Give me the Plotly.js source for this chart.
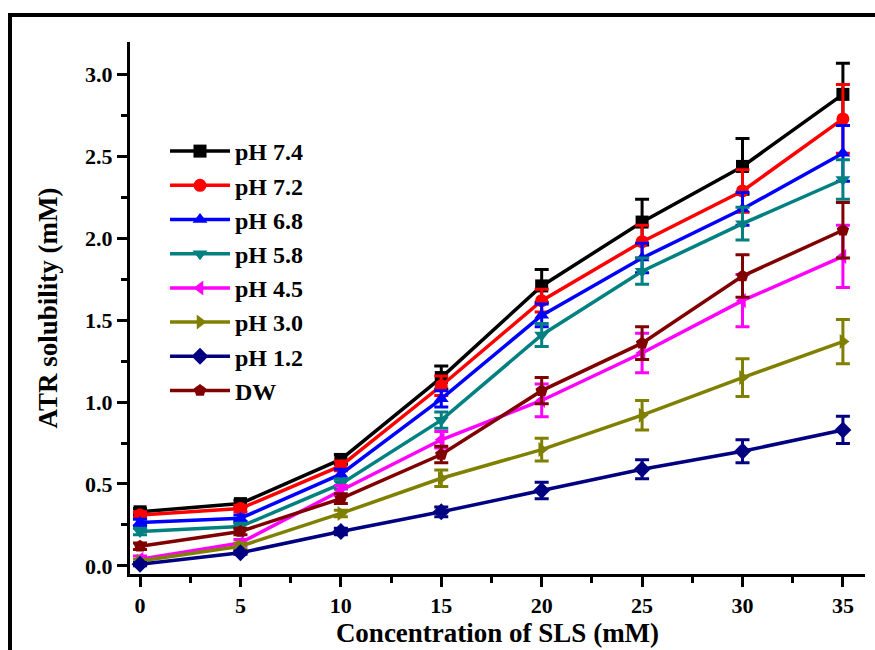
<!DOCTYPE html>
<html>
<head>
<meta charset="utf-8">
<script src="https://cdn.plot.ly/plotly-3.0.1.min.js"></script>
<style>html,body{margin:0;padding:0;background:#fff;}#chart{width:875px;height:650px;}</style>
</head>
<body>
<div id="chart"></div>
<script>
const conc = [0, 5, 10, 15, 20, 25, 30, 35];
const seriesNames = ["pH 7.4", "pH 7.2", "pH 6.8", "pH 5.8", "pH 4.5", "pH 3.0", "pH 1.2", "DW"];
const pH74 = [0.33, 0.38, 0.65, 1.15, 1.71, 2.10, 2.44, 2.88];
const pH72 = [0.31, 0.35, 0.61, 1.10, 1.62, 1.98, 2.29, 2.73];
const pH68 = [0.265, 0.29, 0.56, 1.02, 1.53, 1.88, 2.18, 2.52];
const pH58 = [0.21, 0.24, 0.50, 0.89, 1.41, 1.80, 2.09, 2.36];
const pH45 = [0.04, 0.14, 0.46, 0.77, 1.01, 1.30, 1.62, 1.89];
const pH30 = [0.03, 0.12, 0.32, 0.535, 0.71, 0.92, 1.15, 1.37];
const pH12 = [0.01, 0.08, 0.21, 0.33, 0.46, 0.59, 0.70, 0.83];
const DW   = [0.12, 0.21, 0.41, 0.68, 1.07, 1.36, 1.77, 2.05];
const err74 = [0.02, 0.02, 0.03, 0.07, 0.10, 0.14, 0.17, 0.19];
const err72 = [0.02, 0.02, 0.03, 0.06, 0.07, 0.10, 0.13, 0.21];
const err68 = [0.02, 0.02, 0.03, 0.05, 0.07, 0.09, 0.10, 0.17];
const err58 = [0.02, 0.02, 0.03, 0.05, 0.07, 0.08, 0.10, 0.12];
const err45 = [0.02, 0.02, 0.03, 0.05, 0.10, 0.12, 0.16, 0.19];
const err30 = [0.01, 0.02, 0.02, 0.05, 0.07, 0.09, 0.115, 0.135];
const err12 = [0.01, 0.01, 0.02, 0.03, 0.05, 0.058, 0.07, 0.083];
const errDW = [0.02, 0.02, 0.03, 0.05, 0.08, 0.10, 0.13, 0.17];

const values = [pH74, pH72, pH68, pH58, pH45, pH30, pH12, DW];
const errors = [err74, err72, err68, err58, err45, err30, err12, errDW];
const colors = ["#000000", "#ff0000", "#0000ff", "#008080", "#ff00ff", "#808000", "#000080", "#800000"];
const symbols = ["square", "circle", "triangle-up", "triangle-down", "triangle-left", "triangle-right", "diamond", "pentagon"];

const FONT = "Liberation Serif, Times New Roman, serif";

const traces = values.map((v, i) => ({
  type: "scatter",
  mode: "lines+markers",
  name: seriesNames[i],
  x: conc,
  y: v,
  line: {color: colors[i], width: 3.5},
  marker: {symbol: symbols[i], size: 13, color: colors[i]},
  error_y: {type: "data", array: errors[i], visible: true, color: colors[i], thickness: 3, width: 7}
}));

const W = 735, H = 532, L = 130, B = 574;
const px = p => (p - L) / W;
const py = p => (B - p) / H;

const layout = {
  width: 875, height: 650,
  margin: {l: 130, r: 10, t: 42, b: 76},
  paper_bgcolor: "#fff", plot_bgcolor: "#fff",
  font: {family: FONT, color: "#000", weight: "bold"},
  showlegend: true,
  legend: {
    x: px(165), y: py(129), xanchor: "left", yanchor: "top",
    font: {family: FONT, size: 24, color: "#000", weight: "bold"},
    itemwidth: 60, bgcolor: "rgba(0,0,0,0)"
  },
  xaxis: {
    range: [-0.5, 36.1], tickmode: "linear", tick0: 0, dtick: 5,
    showgrid: false, zeroline: false, showline: true, linecolor: "#000", linewidth: 3,
    ticks: "outside", ticklen: 10, tickwidth: 3, tickcolor: "#000",
    minor: {ticks: "outside", dtick: 2.5, ticklen: 6, tickwidth: 3, tickcolor: "#000", showgrid: false},
    tickfont: {family: FONT, size: 22, color: "#000", weight: "bold"},
    title: {text: "Concentration of SLS (mM)", font: {family: FONT, size: 27, color: "#000", weight: "bold"}, standoff: 4}
  },
  yaxis: {
    range: [-0.05, 3.2], tickmode: "linear", tick0: 0, dtick: 0.5, tickformat: ".1f",
    showgrid: false, zeroline: false, showline: true, linecolor: "#000", linewidth: 3,
    ticks: "outside", ticklen: 10, tickwidth: 3, tickcolor: "#000",
    minor: {ticks: "outside", dtick: 0.25, ticklen: 6, tickwidth: 3, tickcolor: "#000", showgrid: false},
    tickfont: {family: FONT, size: 22, color: "#000", weight: "bold"},
    title: {text: "ATR solubility (mM)", font: {family: FONT, size: 27, color: "#000", weight: "bold"}, standoff: 20}
  },
  shapes: [{
    type: "rect", xref: "paper", yref: "paper",
    x0: px(10), x1: px(900), y0: py(680), y1: py(15),
    line: {color: "#000", width: 4}, fillcolor: "rgba(0,0,0,0)", layer: "above"
  }]
};

Plotly.newPlot("chart", traces, layout, {displayModeBar: false, staticPlot: true});
</script>
</body>
</html>
